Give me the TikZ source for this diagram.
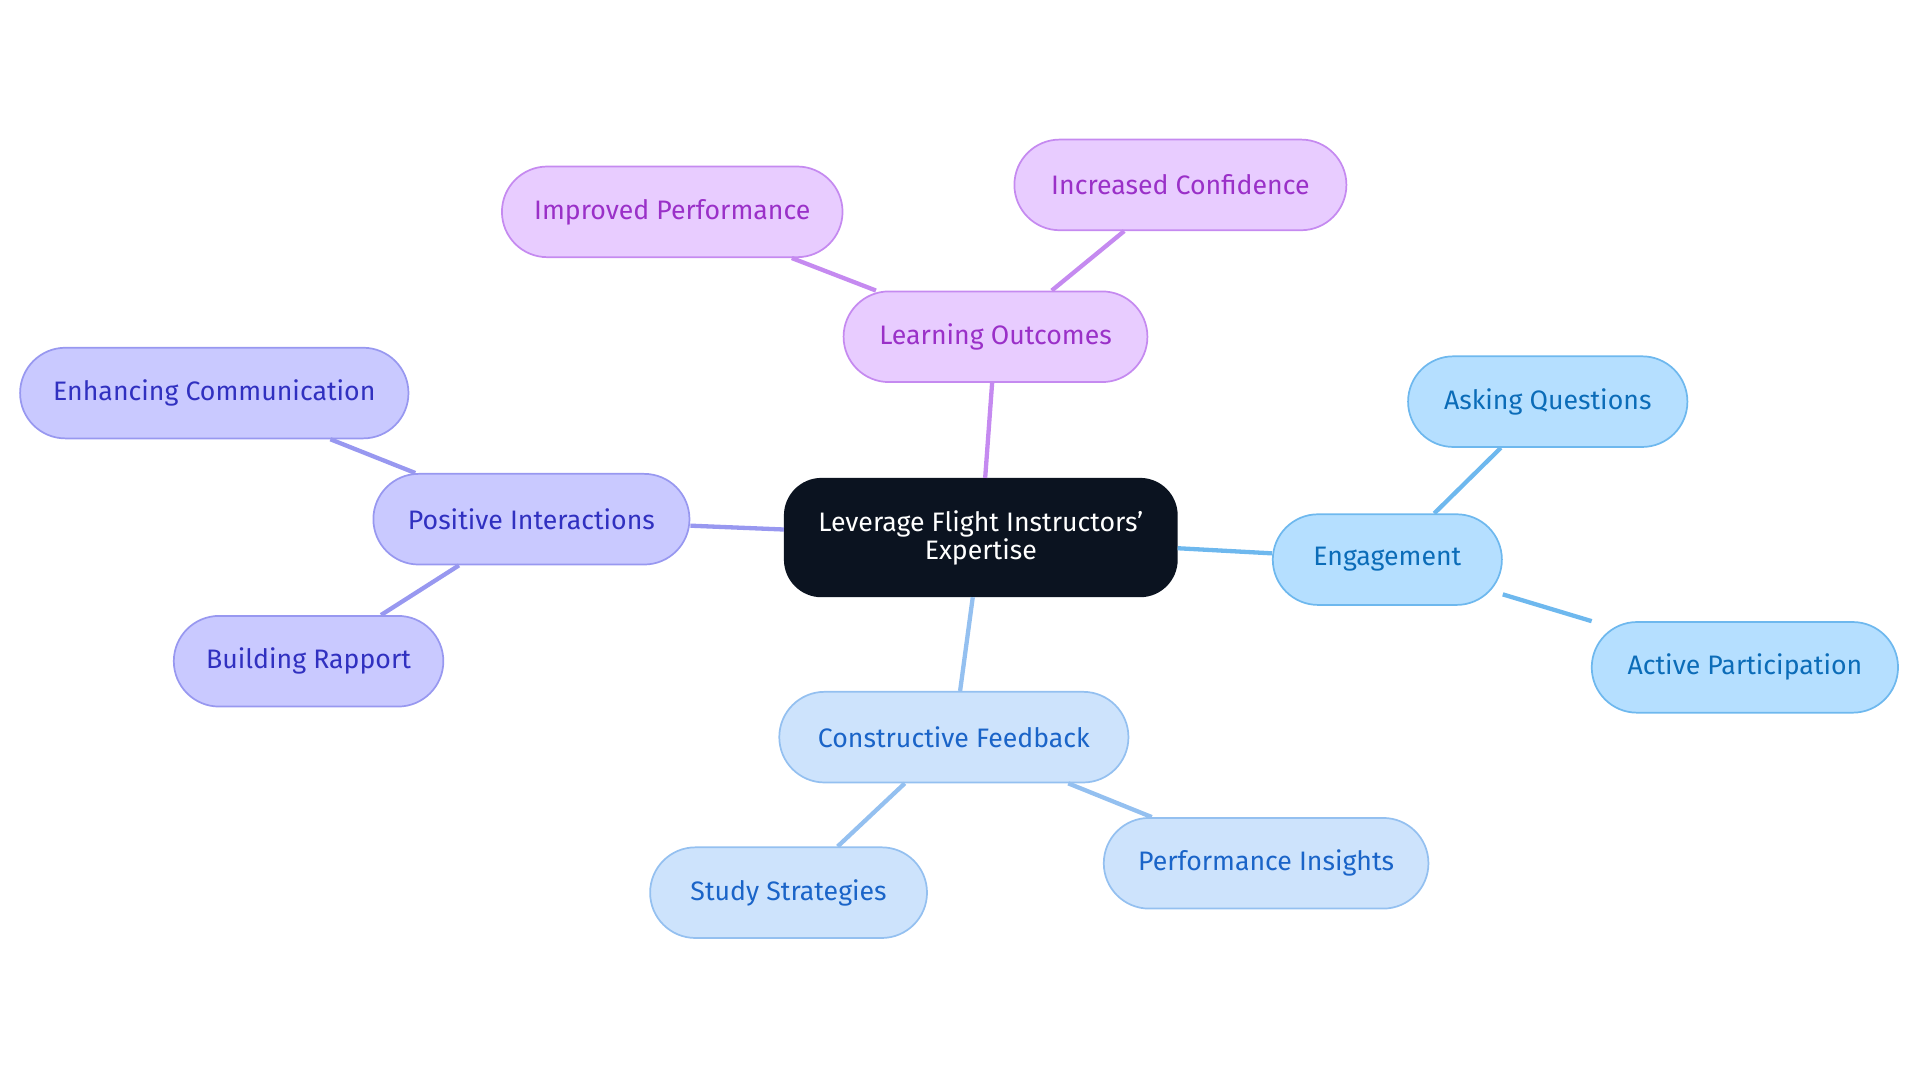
\documentclass[tikz,border=0pt]{standalone}
\usepackage{fontspec}
\setmainfont{Fira Sans}
\definecolor{purfill}{HTML}{E8CCFF}\definecolor{purdraw}{HTML}{C58AF0}\definecolor{purtext}{HTML}{9A30C8}
\definecolor{indfill}{HTML}{C9C9FF}\definecolor{inddraw}{HTML}{9898F0}\definecolor{indtext}{HTML}{3030C0}
\definecolor{skyfill}{HTML}{B5DFFF}\definecolor{skydraw}{HTML}{6EB8EE}\definecolor{skytext}{HTML}{0B6CB8}
\definecolor{palefill}{HTML}{CDE3FC}\definecolor{paledraw}{HTML}{94C0F0}\definecolor{paletext}{HTML}{1A64C8}
\definecolor{rootfill}{HTML}{0B1320}
\tikzstyle{bulle} = [rectangle, rounded corners=0.37cm, minimum height=0.74cm, inner sep=0pt, text centered, font=\fontsize{6.2}{7.5}\selectfont, line width=0.4pt]
\tikzstyle{violet} = [bulle, draw=purdraw, fill=purfill, text=purtext]
\tikzstyle{indigo} = [bulle, draw=inddraw, fill=indfill, text=indtext]
\tikzstyle{ciel} = [bulle, draw=skydraw, fill=skyfill, text=skytext]
\tikzstyle{pale} = [bulle, draw=paledraw, fill=palefill, text=paletext]

\begin{document}
\begin{tikzpicture}[x=0.01cm, y=-0.01cm]

        \useasboundingbox (0,0) rectangle (1568,884);

        \node (root) [bulle, rounded corners=0.3cm, draw=rootfill, fill=rootfill, text=white, minimum width=3.2cm, minimum height=0.96cm, align=center] at (801,439) {Leverage Flight Instructors'\\[-1pt] Expertise};

        \node (LO) [violet, minimum width=2.48cm] at (813,275) {Learning Outcomes};
        \node (IP) [violet, minimum width=2.78cm] at (549,173) {Improved Performance};
        \node (IC) [violet, minimum width=2.71cm] at (964,151) {Increased Confidence};

        \node (PI) [indigo, minimum width=2.58cm] at (434,424) {Positive Interactions};
        \node (EC) [indigo, minimum width=3.17cm] at (175,321) {Enhancing Communication};
        \node (BR) [indigo, minimum width=2.2cm] at (252,540) {Building Rapport};

        \node (EN) [ciel, minimum width=1.87cm] at (1133,457) {Engagement};
        \node (AQ) [ciel, minimum width=2.28cm] at (1264,328) {Asking Questions};
        \node (AP) [ciel, minimum width=2.5cm] at (1425,545) {Active Participation};

        \node (CF) [pale, minimum width=2.85cm] at (779,602) {Constructive Feedback};
        \node (SS) [pale, minimum width=2.26cm] at (644,729) {Study Strategies};
        \node (PS) [pale, minimum width=2.65cm] at (1034,705) {Performance Insights};

        \draw[purdraw, line width=1pt] (root) -- (LO);
        \draw[purdraw, line width=1pt] (LO) -- (IP);
        \draw[purdraw, line width=1pt] (LO) -- (IC);
        \draw[inddraw, line width=1pt] (root) -- (PI);
        \draw[inddraw, line width=1pt] (PI) -- (EC);
        \draw[inddraw, line width=1pt] (PI) -- (BR);
        \draw[skydraw, line width=1pt] (root) -- (EN);
        \draw[skydraw, line width=1pt] (EN) -- (AQ);
        \draw[skydraw, line width=1pt] (EN) -- (AP);
        \draw[paledraw, line width=1pt] (root) -- (CF);
        \draw[paledraw, line width=1pt] (CF) -- (SS);
        \draw[paledraw, line width=1pt] (CF) -- (PS);

    \end{tikzpicture}
\end{document}
